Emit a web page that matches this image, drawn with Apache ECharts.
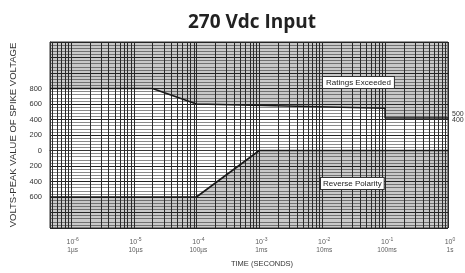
<!DOCTYPE html>
<html>
<head>
<meta charset="utf-8">
<script src="https://cdn.jsdelivr.net/npm/echarts@6/dist/echarts.min.js"></script>
<style>
  html, body { margin: 0; padding: 0; background: #fff; }
  #chart { width: 465px; height: 273px; }
</style>
</head>
<body>
<div id="chart"></div>
<script>
// time axis range (seconds)
const timeMin = 4.7e-7;
const timeMax = 1;

// upper limit curve (Ratings Exceeded above it)
const upperTime = [4.7e-7, 2e-5, 1e-4, 1e-1, 1e-1, 1];
const upperVolts = [800, 800, 600, 545, 420, 420];

// lower limit curve (Reverse Polarity below it)
const lowerTime = [4.7e-7, 1e-4, 1e-3, 1];
const lowerVolts = [-600, -600, 0, 0];

// x tick labels
const tickTime = [1e-6, 1e-5, 1e-4, 1e-3, 1e-2, 1e-1, 1];
const tickExp = ['-6', '-5', '-4', '-3', '-2', '-1', '0'];
const tickUnit = ['1µs', '10µs', '100µs', '1ms', '10ms', '100ms', '1s'];

// y axis
const voltMin = -1000;
const voltMax = 1400;
const voltStep = 200;
const labelledVolts = [800, 600, 400, 200, 0, -200, -400, -600];

// vertical grid lines at 1..9 x 10^n
const gridTimes = [];
for (let n = -7; n < 0; n++) {
  for (let k = 1; k <= 9; k++) {
    const t = k * Math.pow(10, n);
    if (t > timeMin) gridTimes.push(t);
  }
}
gridTimes.push(1);

const chart = echarts.init(document.getElementById('chart'), null, { renderer: 'canvas' });

const font = 'Liberation Sans, Arial, sans-serif';

const option = {
  animation: false,
  title: {
    text: '270 Vdc Input',
    left: 247,
    top: 8,
    textAlign: 'center',
    textStyle: {
      fontFamily: 'Open Sans',
      fontWeight: 'bold',
      fontSize: 19,
      color: '#222',
    },
  },
  grid: {
    left: 48,
    right: 17,
    top: 42,
    bottom: 40,
    show: true,
    borderColor: '#333',
    borderWidth: 1,
    backgroundColor: 'transparent',
  },
  xAxis: {
    type: 'log',
    logBase: 10,
    min: timeMin,
    max: timeMax,
    name: 'TIME (SECONDS)',
    nameLocation: 'middle',
    nameGap: 32,
    nameTextStyle: {
      fontFamily: font,
      fontSize: 7.5,
      color: '#333',
      padding: [0, 0, 0, 26],
    },
    axisLine: { show: true, lineStyle: { color: '#333', width: 1 } },
    axisTick: { show: false },
    axisLabel: { show: false },
    splitLine: { show: false },
  },
  yAxis: {
    type: 'value',
    min: voltMin,
    max: voltMax,
    interval: voltStep,
    name: 'VOLTS-PEAK VALUE OF SPIKE VOLTAGE',
    nameLocation: 'middle',
    nameGap: 32,
    nameTextStyle: {
      fontFamily: font,
      fontSize: 9.5,
      color: '#333',
    },
    axisLine: { show: true, lineStyle: { color: '#333', width: 1 } },
    axisTick: { show: false },
    axisLabel: {
      fontFamily: font,
      fontSize: 7.5,
      color: '#333',
      margin: 8,
      formatter: function (v) {
        return labelledVolts.indexOf(v) >= 0 ? String(Math.abs(v)) : '';
      },
    },
    minorTick: { show: false, splitNumber: 5 },
    splitLine: { show: true, lineStyle: { color: '#222', width: 1 } },
    minorSplitLine: { show: true, lineStyle: { color: '#8a8a8a', width: 1 } },
  },
  series: [
    {
      // vertical log grid lines
      name: 'vgrid',
      type: 'custom',
      silent: true,
      data: gridTimes.map((t) => [t]),
      renderItem: function (params, api) {
        const t = api.value(0);
        const p0 = api.coord([t, voltMin]);
        const p1 = api.coord([t, voltMax]);
        const x = Math.round(p0[0]) + 0.5;
        return {
          type: 'line',
          shape: { x1: x, y1: p0[1], x2: x, y2: p1[1] },
          style: { stroke: '#2a2a2a', lineWidth: 1 },
        };
      },
      encode: { x: 0 },
      z: 1,
    },
    {
      name: 'upper',
      type: 'line',
      data: upperTime.map((t, i) => [t, upperVolts[i]]),
      symbol: 'none',
      lineStyle: { color: '#1a1a1a', width: 1.6 },
      areaStyle: { color: 'rgba(40,40,40,0.36)', origin: 'end' },
      z: 3,
    },
    {
      name: 'lower',
      type: 'line',
      data: lowerTime.map((t, i) => [t, lowerVolts[i]]),
      symbol: 'none',
      lineStyle: { color: '#1a1a1a', width: 1.6 },
      areaStyle: { color: 'rgba(40,40,40,0.36)', origin: 'start' },
      z: 3,
    },
    {
      // x tick labels
      name: 'ticks',
      type: 'scatter',
      data: tickTime.map((t) => [t, voltMin]),
      symbolSize: 0,
      silent: true,
      label: {
        show: true,
        position: 'bottom',
        distance: 9,
        offset: [2, 0],
        align: 'center',
        formatter: function (p) {
          const i = p.dataIndex;
          return '{b|10}{s|' + tickExp[i] + '}\n{u|' + tickUnit[i] + '}';
        },
        rich: {
          b: { fontFamily: font, fontSize: 7, color: '#333', lineHeight: 9, verticalAlign: 'bottom' },
          s: { fontFamily: font, fontSize: 5, color: '#333', lineHeight: 9, verticalAlign: 'top' },
          u: { fontFamily: font, fontSize: 6.5, color: '#333', lineHeight: 8 },
        },
      },
      z: 5,
    },
  ],
  graphic: [
    {
      type: 'text',
      left: 322,
      top: 76,
      z: 10,
      style: {
        text: 'Ratings Exceeded',
        font: '8px Liberation Sans, Arial, sans-serif',
        fill: '#222',
        backgroundColor: '#fff',
        borderColor: '#333',
        borderWidth: 1,
        padding: [2, 3, 1, 3],
      },
    },
    {
      type: 'text',
      left: 320,
      top: 177,
      z: 10,
      style: {
        text: 'Reverse Polarity',
        font: '8px Liberation Sans, Arial, sans-serif',
        fill: '#222',
        backgroundColor: '#fff',
        borderColor: '#333',
        borderWidth: 1,
        padding: [2, 2, 1, 2],
      },
    },
    {
      type: 'text',
      left: 452,
      top: 111,
      z: 10,
      style: { text: '500', font: '7px Liberation Sans, Arial, sans-serif', fill: '#333' },
    },
    {
      type: 'text',
      left: 452,
      top: 117,
      z: 10,
      style: { text: '400', font: '7px Liberation Sans, Arial, sans-serif', fill: '#333' },
    },
  ],
};

chart.setOption(option);
</script>
</body>
</html>
